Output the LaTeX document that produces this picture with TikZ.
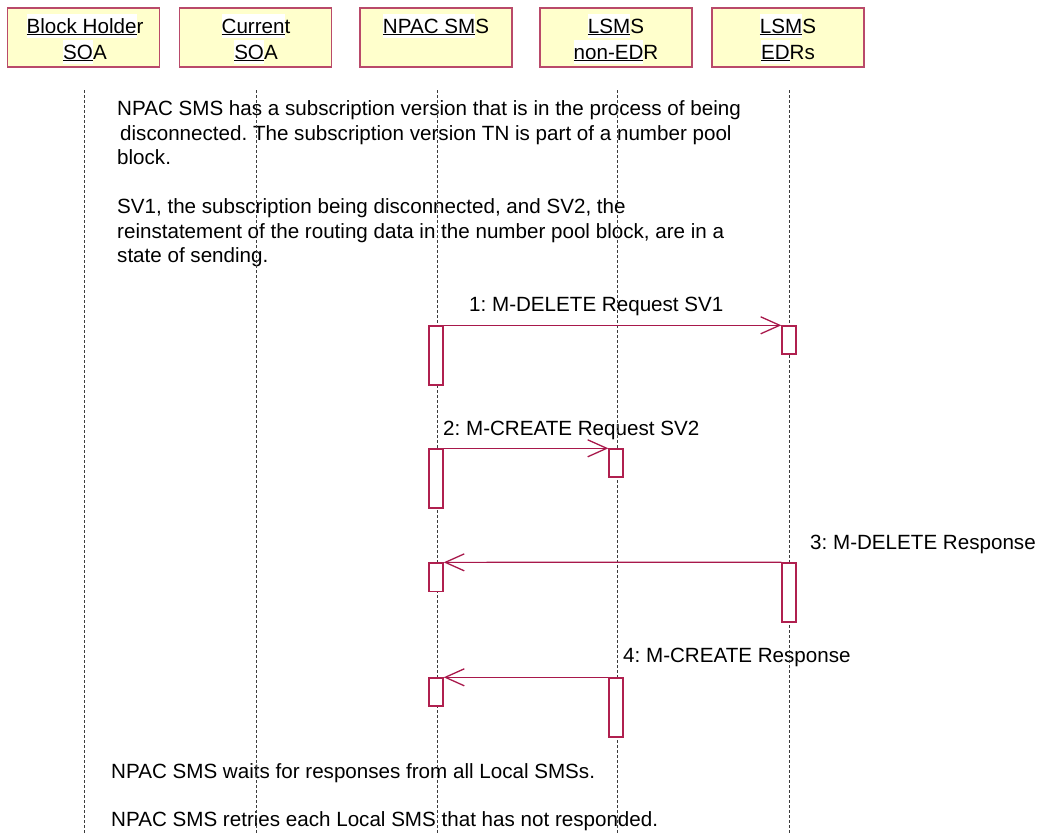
\documentclass[tikz,border=0pt]{standalone}
\usepackage{fontspec}
\setmainfont{Liberation Sans}
\usetikzlibrary{arrows.meta}
\definecolor{arrowred}{HTML}{A8184B}
\definecolor{boxline}{HTML}{B94A6A}
\definecolor{boxfill}{HTML}{FFFFCC}
\definecolor{actline}{HTML}{B0204F}
\definecolor{lifecol}{HTML}{3C3C3C}
\newsavebox\ulbox
\newcommand\ulw[1]{\sbox\ulbox{#1}\rlap{\color{white}\rule[-4.5pt]{\wd\ulbox}{24pt}}\rlap{\rule[-2pt]{\wd\ulbox}{1pt}}\usebox\ulbox}
\frenchspacing
\begin{document}
\begin{tikzpicture}[x=1pt, y=-1pt, font=\fontsize{20.6}{24.5}\selectfont\frenchspacing,
  hdr/.style={draw=boxline, line width=1.6pt, fill=boxfill, minimum width=152pt, minimum height=59pt, inner sep=0pt},
  txt/.style={anchor=base west, inner sep=0pt},
  htxt/.style={anchor=base, inner sep=0pt},
  act/.style={draw=actline, line width=1.4pt, fill=white, minimum width=14pt, inner sep=0pt},
  msg/.style={draw=arrowred, line width=1.2pt, -{Straight Barb[length=19pt,width=17pt,line width=1.3pt]}},
  life/.style={draw=lifecol, line width=0.8pt, dash pattern=on 3pt off 2pt}]
\useasboundingbox (0,0) rectangle (1039,835);

% header boxes
\node[hdr] (h1) at (83.5,37.5) {};
\node[hdr] (h2) at (255.5,37.5) {};
\node[hdr] (h3) at (436,37.5) {};
\node[hdr] (h4) at (616,37.5) {};
\node[hdr] (h5) at (788,37.5) {};
\node[htxt] (h1a) at (85,33.3) {\ulw{Block Holde}r};
\node[htxt] (h1b) at (85,59.3) {\ulw{SO}A};
\node[htxt] (h2a) at (256,33.3) {\ulw{Curren}t};
\node[htxt] (h2b) at (256,59.3) {\ulw{SO}A};
\node[htxt] (h3a) at (436,33.3) {\ulw{NPAC SM}S};
\node[htxt] (h4a) at (616,33.3) {\ulw{LSM}S};
\node[htxt] (h4b) at (616,59.3) {\ulw{non-ED}R};
\node[htxt] (h5a) at (788,33.3) {\ulw{LSM}S};
\node[htxt] (h5b) at (788,59.3) {\ulw{ED}Rs};

% notes
\node[txt] (n1) at (117,115.5) {NPAC SMS has a subscription version that is in the process of being};
\node[txt] (n2) at (117,140) {\hspace{3pt}disconnected. The subscription version TN is part of a number pool};
\node[txt] (n3) at (117,164.5) {block.};
\node[txt] (n4) at (117,213.5) {SV1, the subscription being disconnected, and SV2, the};
\node[txt] (n5) at (117,238) {reinstatement of the routing data in the number pool block, are in a};
\node[txt] (n6) at (117,262.5) {state of sending.};
\node[txt] (b1) at (111,778.5) {NPAC SMS waits for responses from all Local SMSs.};
\node[txt] (b2) at (111,826.5) {NPAC SMS retries each Local SMS that has not responded.};

% message labels
\node[txt] (m1) at (469,311) {1: M-DELETE Request SV1};
\node[txt] (m2) at (443,435.5) {2: M-CREATE Request SV2};
\node[txt] (m3) at (810,549) {3: M-DELETE Response};
\node[txt] (m4) at (623,662.7) {4: M-CREATE Response};

% lifelines
\coordinate (l1t) at (84,90);    \coordinate (l1b) at (84,835);
\coordinate (l2t) at (256.5,90); \coordinate (l2b) at (256.5,835);
\coordinate (l3t) at (437,90);   \coordinate (l3b) at (437,835);
\coordinate (l4t) at (617.5,90); \coordinate (l4b) at (617.5,835);
\coordinate (l5t) at (789,90);   \coordinate (l5b) at (789,835);
\draw[life] (l1t) -- (l1b);
\draw[life] (l2t) -- (l2b);
\draw[life] (l3t) -- (l3b);
\draw[life] (l4t) -- (l4b);
\draw[life] (l5t) -- (l5b);

% activations
\node[act, minimum height=59pt] (a1) at (436,355.5) {};
\node[act, minimum height=28pt] (a1e) at (789,340) {};
\node[act, minimum height=59pt] (a2) at (436,478.5) {};
\node[act, minimum height=28pt] (a2n) at (616,463) {};
\node[act, minimum height=28.5pt] (a3) at (436,577.3) {};
\node[act, minimum height=59pt] (a3e) at (789,592.5) {};
\node[act, minimum height=28pt] (a4) at (436,692) {};
\node[act, minimum height=59pt] (a4n) at (616,707.5) {};

% messages
\draw[msg] (a1.north east) -- (a1e.north west);
\draw[msg] (a2.north east) -- (a2n.north west);
\draw[msg] (a3e.north west) -- (a3.north east);
\draw[msg] (a4n.north west) -- (a4.north east);
\end{tikzpicture}
\end{document}
